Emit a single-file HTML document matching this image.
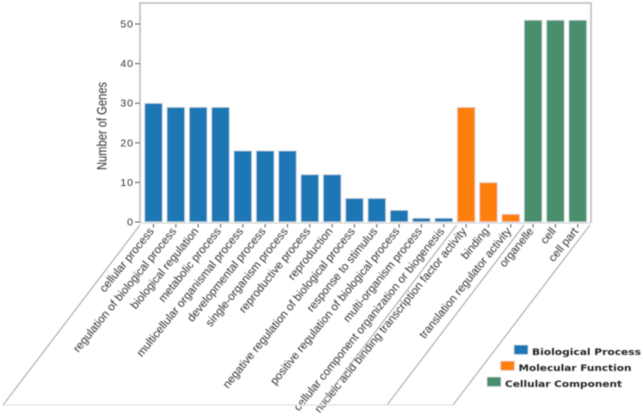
<!DOCTYPE html>
<html>
<head>
<meta charset="utf-8">
<style>
html,body{margin:0;padding:0;background:#fff;width:643px;height:417px;overflow:hidden}
svg{display:block}
text{font-family:"Liberation Sans",sans-serif;fill:#333}
</style>
</head>
<body>
<svg id="chart" width="643" height="417" viewBox="0 0 643 417">
<defs><filter id="soft" x="-5%" y="-5%" width="110%" height="110%"><feGaussianBlur stdDeviation="0.5"/></filter></defs>
<g id="root" filter="url(#soft)"></g>
</svg>
<script>
const categories = ["cellular process","regulation of biological process","biological regulation","metabolic process","multicellular organismal process","developmental process","single-organism process","reproductive process","reproduction","negative regulation of biological process","response to stimulus","positive regulation of biological process","multi-organism process","cellular component organization or biogenesis","nucleic acid binding transcription factor activity","binding","translation regulator activity","organelle","cell","cell part"];
const geneCounts = [30,29,29,29,18,18,18,12,12,6,6,3,1,1,29,10,2,51,51,51];
const groups = ["bp","bp","bp","bp","bp","bp","bp","bp","bp","bp","bp","bp","bp","bp","mf","mf","mf","cc","cc","cc"];
const yTicks = [0,10,20,30,40,50];
const groupColors = {bp:"#1f77b4",mf:"#ff7f0e",cc:"#4a8f6e"};
const legendLabels = ["Biological Process","Molecular Function","Cellular Component"];

const NS = "http://www.w3.org/2000/svg";
const root = document.getElementById("root");
function make(tag, attrs, text){
  const el = document.createElementNS(NS, tag);
  for (const k in attrs) el.setAttribute(k, attrs[k]);
  if (text !== undefined) el.textContent = text;
  root.appendChild(el);
  return el;
}
const plot = {left:140, right:591, top:3, bottom:222};
const yScale = v => plot.bottom - v * 3.96;
const xScale = i => 153.5 + i * 22.33;
const barWidth = 18;
const slantDx = 137, slantDy = 180;

const frame = make("path",{d:`M${plot.left} ${plot.bottom+1}V${plot.top}H${plot.right}V${plot.bottom+1}`,fill:"none",stroke:"#b9b9b9","stroke-width":1.5});


const base = make("line",{x1:plot.left,x2:plot.right,y1:plot.bottom+1,y2:plot.bottom+1,stroke:"#d0d0d0","stroke-width":1});



yTicks.forEach(t => {
  const y = yScale(t);
  const tick = make("line",{x1:135,x2:plot.left,y1:y,y2:y,stroke:"#555","stroke-width":1});
  
  
  const lab = make("text",{x:134,y:y+3.5,"text-anchor":"end","font-size":10.5,"letter-spacing":"1"},String(t));
  
  
});

const title = make("text",{transform:"translate(106.5,126) rotate(-90)","text-anchor":"middle","font-size":13.5,textLength:88,lengthAdjust:"spacingAndGlyphs"},"Number of Genes");



categories.forEach((c,i) => {
  const x = xScale(i);
  const bar = make("rect",{x:x-barWidth/2,y:yScale(geneCounts[i]),width:barWidth,height:plot.bottom-yScale(geneCounts[i]),fill:groupColors[groups[i]],stroke:"#dfe9ef","stroke-width":0.8});
  
  
  const tick = make("line",{x1:x,x2:x,y1:plot.bottom+2,y2:plot.bottom+5.5,stroke:"#555","stroke-width":1});
  
  
  const lab = make("text",{transform:`translate(${x+1},${plot.bottom+9.5}) rotate(-51)`,"text-anchor":"end","font-size":11.4},c);
  
  
});

const slantStarts = [140, 456.7, 524, 590];
slantStarts.forEach(x0 => {
  const s = make("line",{x1:x0,y1:225,x2:x0-slantDx,y2:225+slantDy,stroke:"#a0a0a0","stroke-width":1});
  
  
});
const bottomLine = make("line",{x1:3,y1:405,x2:453,y2:405,stroke:"#dddddd","stroke-width":1});



const legendKeys = ["bp","mf","cc"];
const legendWidths = [109,113,117];
legendLabels.forEach((l,i) => {
  const sx = 514 - i * 13.5, sy = 345 + i * 16;
  const sw = make("rect",{x:sx,y:sy,width:14,height:9.5,fill:groupColors[legendKeys[i]],stroke:"#dfe9ef","stroke-width":0.5});
  
  
  const tx = make("text",{x:sx+18,y:sy+10,"font-size":8.5,"font-weight":"bold",textLength:legendWidths[i],lengthAdjust:"spacingAndGlyphs",style:"font-family:'DejaVu Sans',sans-serif;fill:#222"},l);
  
  
});
</script>
</body>
</html>
